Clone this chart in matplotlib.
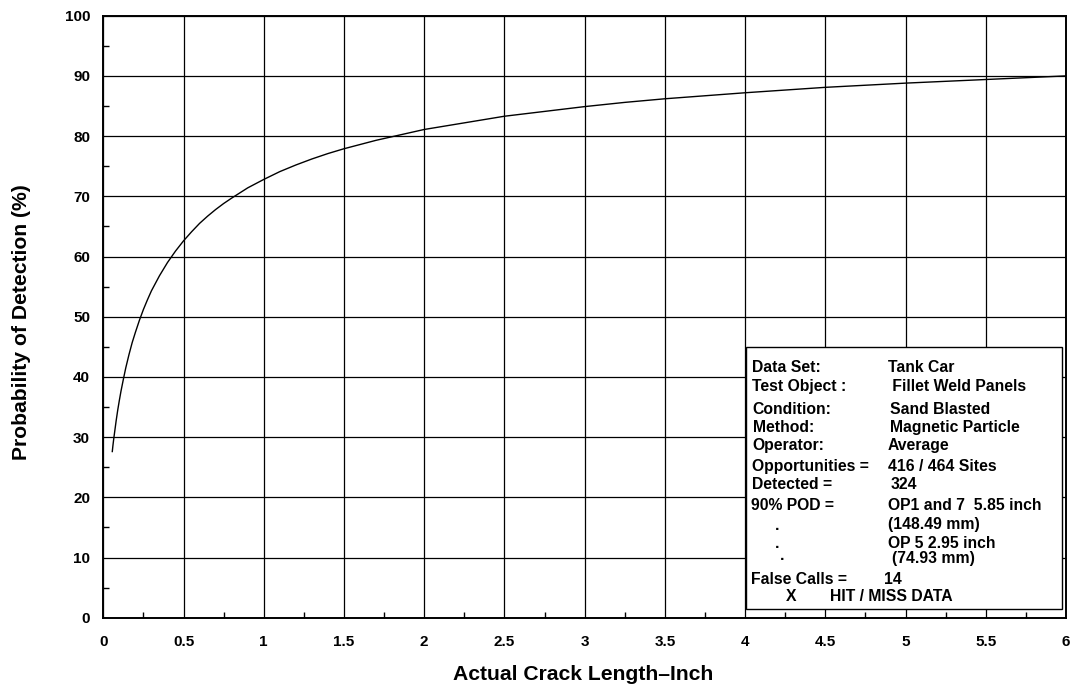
import matplotlib
matplotlib.use("Agg")
import matplotlib.pyplot as plt
from matplotlib.patches import Rectangle
from matplotlib.ticker import MultipleLocator

plt.rcParams['font.family'] = ['Liberation Sans', 'DejaVu Sans']

# POD curve: crack length (inch) vs probability of detection (%)
crack_len = [0.056, 0.06, 0.065, 0.07, 0.08, 0.09, 0.1, 0.11, 0.125, 0.14,
             0.16, 0.18, 0.2, 0.225, 0.25, 0.275, 0.3, 0.35, 0.4, 0.45,
             0.5, 0.55, 0.6, 0.65, 0.7, 0.75, 0.8, 0.9, 1.0, 1.1,
             1.2, 1.3, 1.4, 1.5, 1.6, 1.7, 1.8, 2.0, 2.25, 2.5,
             2.75, 3.0, 3.25, 3.5, 3.75, 4.0, 4.5, 5.0, 5.5, 6.0]
pod = [27.6, 28.6, 29.7, 30.7, 32.7, 34.5, 36.1, 37.6, 39.6, 41.5,
       43.7, 45.7, 47.4, 49.4, 51.2, 52.8, 54.3, 56.8, 59.0, 60.9,
       62.6, 64.1, 65.5, 66.7, 67.8, 68.8, 69.7, 71.4, 72.8, 74.1,
       75.2, 76.2, 77.1, 77.9, 78.6, 79.3, 79.9, 81.1, 82.2, 83.3,
       84.1, 84.9, 85.6, 86.2, 86.7, 87.2, 88.1, 88.8, 89.4, 90.0]

x_ticks = [0, 0.5, 1, 1.5, 2, 2.5, 3, 3.5, 4, 4.5, 5, 5.5, 6]
x_tick_labels = ["0", "0.5", "1", "1.5", "2", "2.5", "3", "3.5", "4", "4.5", "5", "5.5", "6"]
y_ticks = [0, 10, 20, 30, 40, 50, 60, 70, 80, 90, 100]

info_left = ["Data Set:", "Test Object :", "Condition:", "Method:", "Operator:",
             "Opportunities =", "Detected =", "90% POD ="]
info_right = ["Tank Car", " Fillet Weld Panels", "Sand Blasted", "Magnetic Particle",
              "Average", "416 / 464 Sites", "324", "OP1 and 7  5.85 inch"]

W, H = 1073, 686
fig = plt.figure(figsize=(W / 100, H / 100), dpi=100)
ax = fig.add_axes([103.3 / W, 1 - 617.7 / H, (1066 - 103.3) / W, (617.7 - 15.7) / H])

ax.plot(crack_len, pod, color='black', lw=1.0, zorder=3)

ax.set_xlim(0, 6)
ax.set_ylim(0, 100)
ax.set_xticks(x_ticks)
ax.set_xticklabels(x_tick_labels)
ax.set_yticks(y_ticks)
ax.xaxis.set_minor_locator(MultipleLocator(0.25))
ax.yaxis.set_minor_locator(MultipleLocator(5))
ax.grid(True, which='major', color='black', lw=0.9)
ax.set_axisbelow(True)
ax.tick_params(which='major', length=0, labelsize=11)
ax.tick_params(axis='y', which='major', pad=9.5)
ax.tick_params(axis='x', which='major', pad=12.5)
ax.tick_params(which='minor', direction='in', length=4, width=1, color='black')
for lab in ax.get_xticklabels() + ax.get_yticklabels():
    lab.set_fontweight('bold')
for s in ax.spines.values():
    s.set_linewidth(1.4)
    s.set_color('black')

fig.text(583 / W, 1 - 675 / H, "Actual Crack Length\u2013Inch", ha='center', va='center',
         fontsize=15.2, fontweight='bold')
fig.text(22 / W, 1 - 322 / H, "Probability of Detection (%)", ha='center', va='center',
         rotation=90, fontsize=15.2, fontweight='bold')

# Data set summary box
ax.add_patch(Rectangle((4.005, 1.45), 5.977 - 4.005, 45.0 - 1.45, facecolor='white',
                       edgecolor='black', lw=1.0, zorder=4))

def t(x, y, s, **kw):
    fig.text(x / W, 1 - y / H, s, ha='left', va='center', fontsize=11.3,
             fontweight='bold', zorder=10, **kw)

left_y = [367.7, 386.7, 409.3, 427.3, 445.3, 466.7, 484.3, 505.7]
right_x = [887.7, 887.7, 890, 890, 887.7, 887.7, 890.7, 887.7]
for i, (a, b) in enumerate(zip(info_left, info_right)):
    t(752.5 if i < 7 else 751.3, left_y[i], a)
    t(right_x[i], left_y[i], b)

t(775, 526, ".")
t(887.7, 525, "(148.49 mm)")
t(775, 544, ".")
t(887.7, 543.3, "OP 5 2.95 inch")
t(780, 556, ".")
t(892.3, 558.3, "(74.93 mm)")
t(751.3, 580, "False Calls =")
t(884, 580, "14")
t(786, 596.7, "X")
t(830, 596.7, "HIT / MISS DATA")

fig.savefig("out.png", dpi=100)
